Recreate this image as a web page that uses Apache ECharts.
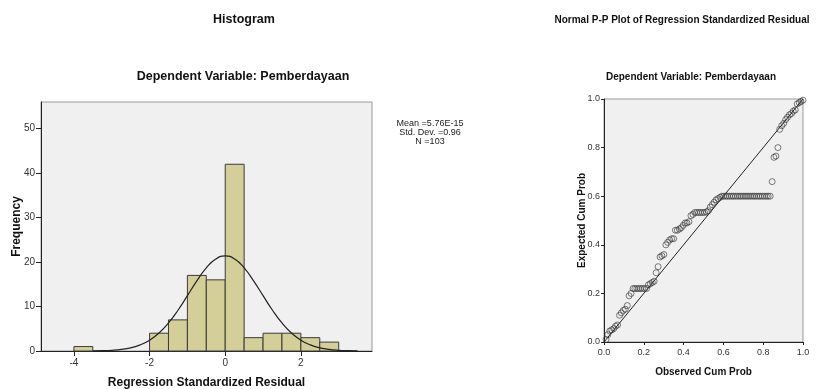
<!DOCTYPE html>
<html>
<head>
<meta charset="utf-8">
<script src="https://cdn.jsdelivr.net/npm/echarts@6/dist/echarts.min.js"></script>
<style>
html, body { margin: 0; padding: 0; background: #fff; }
#main { width: 826px; height: 389px; }
</style>
</head>
<body>
<div id="main"></div>
<script>
var myChart = echarts.init(document.getElementById('main'));

// histogram bins (start, end) and frequency
var binStart = [-4, -2, -1.5, -1, -0.5, 0, 0.5, 1, 1.5, 2, 2.5];
var binEnd = [-3.5, -1.5, -1, -0.5, 0, 0.5, 1, 1.5, 2, 2.5, 3];
var binCount = [1, 4, 7, 17, 16, 42, 3, 4, 4, 3, 2];

// normal curve
var curveX = [-3.5, -3.25, -3, -2.75, -2.5, -2.25, -2, -1.75, -1.5, -1.25, -1, -0.75, -0.5, -0.25, 0,
    0.25, 0.5, 0.75, 1, 1.25, 1.5, 1.75, 2, 2.25, 2.5, 2.75, 3, 3.25, 3.5];
var curveY = [0.03, 0.07, 0.16, 0.35, 0.72, 1.37, 2.44, 4.06, 6.31, 9.17, 12.44, 15.77, 18.69, 20.69, 21.4,
    20.69, 18.69, 15.77, 12.44, 9.17, 6.31, 4.06, 2.44, 1.37, 0.72, 0.35, 0.16, 0.07, 0.03];

var histXTicks = [-4, -2, 0, 2];
var histYTicks = [0, 10, 20, 30, 40, 50];
var statLines = ['Mean =5.76E-15', 'Std. Dev. =0.96', 'N =103'];

// P-P plot points
var ppObserved = [0.010, 0.019, 0.029, 0.039, 0.049, 0.058, 0.068, 0.078, 0.087, 0.097,
    0.107, 0.117, 0.126, 0.136, 0.146, 0.155, 0.165, 0.175, 0.184, 0.194,
    0.204, 0.214, 0.223, 0.233, 0.243, 0.252, 0.262, 0.272, 0.282, 0.291,
    0.301, 0.311, 0.320, 0.330, 0.340, 0.350, 0.359, 0.369, 0.379, 0.388,
    0.398, 0.408, 0.417, 0.427, 0.437, 0.447, 0.456, 0.466, 0.476, 0.485,
    0.495, 0.505, 0.515, 0.524, 0.534, 0.544, 0.553, 0.563, 0.573, 0.583,
    0.592, 0.602, 0.612, 0.621, 0.631, 0.641, 0.650, 0.660, 0.670, 0.680,
    0.689, 0.699, 0.709, 0.718, 0.728, 0.738, 0.748, 0.757, 0.767, 0.777,
    0.786, 0.796, 0.806, 0.816, 0.825, 0.835, 0.845, 0.854, 0.864, 0.874,
    0.883, 0.893, 0.903, 0.913, 0.922, 0.932, 0.942, 0.951, 0.961, 0.971,
    0.981, 0.990, 1.000];
var ppExpected = [0.010, 0.030, 0.045, 0.050, 0.055, 0.065, 0.070, 0.110, 0.120, 0.130,
    0.135, 0.150, 0.190, 0.200, 0.220, 0.220, 0.220, 0.220, 0.220, 0.220,
    0.220, 0.220, 0.235, 0.240, 0.245, 0.250, 0.285, 0.310, 0.350, 0.355,
    0.360, 0.400, 0.410, 0.420, 0.425, 0.425, 0.460, 0.460, 0.465, 0.470,
    0.480, 0.490, 0.490, 0.495, 0.520, 0.525, 0.533, 0.533, 0.533, 0.533,
    0.533, 0.533, 0.535, 0.540, 0.555, 0.565, 0.575, 0.585, 0.590, 0.595,
    0.600, 0.600, 0.600, 0.600, 0.600, 0.600, 0.600, 0.600, 0.600, 0.600,
    0.600, 0.600, 0.600, 0.600, 0.600, 0.600, 0.600, 0.600, 0.600, 0.600,
    0.600, 0.600, 0.600, 0.600, 0.600, 0.600, 0.660, 0.760, 0.765, 0.800,
    0.875, 0.890, 0.900, 0.915, 0.925, 0.935, 0.940, 0.950, 0.955, 0.980,
    0.985, 0.990, 0.995];

var FONT = '"Liberation Sans", Arial, sans-serif';

var barData = binStart.map(function (s, i) { return [s, binEnd[i], binCount[i]]; });
var curveData = curveX.map(function (x, i) { return [x, curveY[i]]; });
var ppData = ppObserved.map(function (x, i) { return [x, ppExpected[i]]; });

function axisBase(extra) {
    var a = {
        type: 'value',
        axisLine: { show: true, onZero: false, lineStyle: { color: '#222', width: 1 } },
        splitLine: { show: false },
        nameLocation: 'middle',
        nameMoveOverlap: false,
        nameTextStyle: { color: '#111', fontWeight: 'bold', fontSize: 12, fontFamily: FONT }
    };
    return Object.assign(a, extra);
}

var statGraphics = statLines.map(function (t, i) {
    return {
        type: 'text', x: 430, y: 124 + i * 8.8,
        style: { text: t, font: '9px ' + FONT, fill: '#222', textAlign: 'center', textVerticalAlign: 'middle' }
    };
});

option = {
    backgroundColor: '#fff',
    animation: false,
    grid: [
        { left: 41, top: 102, width: 331, height: 249, outerBoundsMode: 'none', containLabel: false,
          show: true, backgroundColor: '#f0f0f0', borderColor: '#999', borderWidth: 1 },
        { left: 604, top: 99, width: 199, height: 243, outerBoundsMode: 'none', containLabel: false,
          show: true, backgroundColor: '#f0f0f0', borderColor: '#999', borderWidth: 1 }
    ],
    graphic: [
        { type: 'text', x: 244, y: 20, style: { text: 'Histogram', font: 'bold 12.5px ' + FONT, fill: '#111', textAlign: 'center', textVerticalAlign: 'middle' } },
        { type: 'text', x: 243, y: 77, style: { text: 'Dependent Variable: Pemberdayaan', font: 'bold 12.5px ' + FONT, fill: '#111', textAlign: 'center', textVerticalAlign: 'middle' } },
        { type: 'text', x: 682, y: 20, style: { text: 'Normal P-P Plot of Regression Standardized Residual', font: 'bold 10px ' + FONT, fill: '#111', textAlign: 'center', textVerticalAlign: 'middle' } },
        { type: 'text', x: 691, y: 77, style: { text: 'Dependent Variable: Pemberdayaan', font: 'bold 10px ' + FONT, fill: '#111', textAlign: 'center', textVerticalAlign: 'middle' } }
    ].concat(statGraphics),
    xAxis: [
        axisBase({
            gridIndex: 0, min: -4.87, max: 3.88,
            name: 'Regression Standardized Residual', nameGap: 26,
            axisTick: { show: true, inside: false, length: 5, customValues: histXTicks, lineStyle: { color: '#222' } },
            axisLabel: { color: '#333', fontSize: 10, fontFamily: FONT, margin: 7, customValues: histXTicks }
        }),
        axisBase({
            gridIndex: 1, min: 0, max: 1, interval: 0.2,
            name: 'Observed Cum Prob', nameGap: 25,
            nameTextStyle: { color: '#111', fontWeight: 'bold', fontSize: 10, fontFamily: FONT },
            axisTick: { show: true, inside: false, length: 3, lineStyle: { color: '#222' } },
            axisLabel: { color: '#333', fontSize: 9, fontFamily: FONT, margin: 6, formatter: function (v) { return v.toFixed(1); } }
        })
    ],
    yAxis: [
        axisBase({
            gridIndex: 0, min: 0, max: 56,
            name: 'Frequency', nameGap: 18,
            axisTick: { show: true, inside: false, length: 5, customValues: histYTicks, lineStyle: { color: '#222' } },
            axisLabel: { color: '#333', fontSize: 10, fontFamily: FONT, margin: 6, customValues: histYTicks }
        }),
        axisBase({
            gridIndex: 1, min: 0, max: 1, interval: 0.2,
            name: 'Expected Cum Prob', nameGap: 17,
            nameTextStyle: { color: '#111', fontWeight: 'bold', fontSize: 10, fontFamily: FONT },
            axisTick: { show: true, inside: false, length: 3, lineStyle: { color: '#222' } },
            axisLabel: { color: '#333', fontSize: 9, fontFamily: FONT, margin: 4, formatter: function (v) { return v.toFixed(1); } }
        })
    ],
    series: [
        {
            type: 'custom',
            xAxisIndex: 0, yAxisIndex: 0,
            data: barData,
            encode: { x: [0, 1], y: 2 },
            renderItem: function (params, api) {
                var p0 = api.coord([api.value(0), api.value(2)]);
                var p1 = api.coord([api.value(1), 0]);
                return {
                    type: 'rect',
                    shape: { x: p0[0], y: p0[1], width: p1[0] - p0[0], height: p1[1] - p0[1] },
                    style: { fill: '#d4cf99', stroke: '#3a3a3a', lineWidth: 1 }
                };
            },
            z: 2
        },
        {
            type: 'line',
            xAxisIndex: 0, yAxisIndex: 0,
            data: curveData,
            smooth: true,
            showSymbol: false,
            lineStyle: { color: '#222', width: 1.2 },
            z: 3
        },
        {
            type: 'line',
            xAxisIndex: 1, yAxisIndex: 1,
            data: [[0, 0], [1, 1]],
            showSymbol: false,
            lineStyle: { color: '#222', width: 1 },
            z: 2
        },
        {
            type: 'scatter',
            xAxisIndex: 1, yAxisIndex: 1,
            data: ppData,
            symbol: 'circle',
            symbolSize: 6,
            itemStyle: { color: 'transparent', borderColor: '#333', borderWidth: 0.8 },
            z: 3
        }
    ]
};
myChart.setOption(option);
</script>
</body>
</html>
